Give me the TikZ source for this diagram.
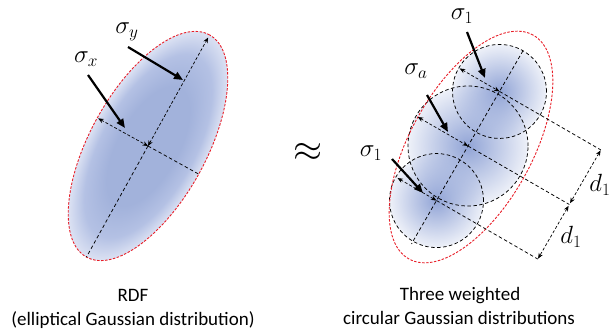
\documentclass[tikz,border=0pt]{standalone}
\usepackage{fontspec}
\setmainfont{Carlito}
\usetikzlibrary{arrows.meta,calc,fadings}
\definecolor{bcol}{RGB}{162,178,219}
\definecolor{mcol}{RGB}{180,193,228}
\definecolor{lcol}{RGB}{220,226,243}
\definecolor{ccol}{RGB}{145,164,214}
\definecolor{redd}{RGB}{232,30,40}
\pgfdeclareradialshading{ellshade}{\pgfpoint{0bp}{0bp}}{color(0bp)=(bcol); color(13bp)=(bcol); color(20bp)=(mcol); color(25bp)=(lcol); color(50bp)=(lcol)}
\tikzfading[name=radfade, inner color=transparent!0, outer color=transparent!85]
\begin{document}
\begin{tikzpicture}[x=1pt,y=1pt,
  lab/.style={font=\fontsize{25}{30}\selectfont, inner sep=0pt},
  txt/.style={font=\fontsize{19}{23}\selectfont, inner sep=0pt, anchor=base},
  big/.style={line width=2.2pt, -{Triangle[length=9pt,width=7.5pt]}},
  dim/.style={dash pattern=on 3pt off 2pt, line width=0.7pt, {Stealth[length=5.5pt,width=4.5pt]}-{Stealth[length=5.5pt,width=4.5pt]}},
  axis/.style={dash pattern=on 3.5pt off 2.5pt, line width=0.75pt},
  redel/.style={draw=redd, dash pattern=on 2.5pt off 1.5pt, line width=0.9pt}]
\useasboundingbox (0,0) rectangle (613,-331);

% ---------- left: elliptical Gaussian ----------
\coordinate (C1) at (148,-146);
\begin{scope}[transform canvas={shift={(148,-146)}, rotate=61}]
  \shade[shading=ellshade] (0,0) ellipse (127 and 58);
\end{scope}
\draw[redel, rotate around={61:(C1)}] (C1) ellipse (127 and 58);
\coordinate (Ltop) at ($(C1)+(61:124)$);
\coordinate (Lbot) at ($(C1)+(241:127)$);
\coordinate (Lleft) at ($(C1)+(151:57)$);
\coordinate (Lright) at ($(C1)+(331:58)$);
\draw[axis] (C1) -- (Lbot);
\draw[axis] (C1) -- (Lright);
\draw[dim] (Lleft) -- (C1);
\draw[dim] (C1) -- (Ltop);

\node[lab] (sx) at (86,-59) {$\sigma_x$};
\node[lab] (sy) at (127,-32) {$\sigma_y$};
\coordinate (sxs) at (88,-75);
\coordinate (sxe) at (125,-128);
\coordinate (sys) at (128,-47);
\coordinate (sye) at (183,-80);
\draw[big] (sxs) -- (sxe);
\draw[big] (sys) -- (sye);

% ---------- approx ----------
\node[font=\fontsize{24}{28}\selectfont, inner sep=0pt, scale=1.5] (approx) at (308,-152) {$\approx$};

% ---------- right: three circular Gaussians ----------
\coordinate (M) at (468,-146);
\coordinate (T) at ($(M)+(60:63)$);
\coordinate (B) at ($(M)+(240:63)$);
\fill[ccol, path fading=radfade] (B) circle (47);
\fill[ccol, path fading=radfade] (M) circle (60);
\fill[ccol, path fading=radfade] (T) circle (47);
\draw[axis] (B) circle (47);
\draw[axis] (M) circle (60);
\draw[axis] (T) circle (47);
\coordinate (C2) at (471,-147);
\draw[redel, rotate around={61:(C2)}] (C2) ellipse (128 and 61);

\coordinate (Atop) at ($(T)+(60:47)$);
\coordinate (Abot) at ($(B)+(240:50)$);
\draw[axis] (Atop) -- (Abot);

\coordinate (Tl) at ($(T)+(150:46)$);
\coordinate (Ml) at ($(M)+(150:58)$);
\coordinate (Bl) at ($(B)+(150:45)$);
\coordinate (Tr) at ($(T)+(330:117)$);
\coordinate (Mr) at ($(M)+(330:117)$);
\coordinate (Br) at ($(B)+(330:117)$);
\draw[dim] (Tl) -- (T);
\draw[dim] (Ml) -- (M);
\draw[dim] (Bl) -- (B);
\draw[axis] (T) -- (Tr);
\draw[axis] (M) -- (Mr);
\draw[axis] (B) -- (Br);
\draw[dim, shorten <=0.5pt, shorten >=1.5pt] (Tr) -- (Mr);
\draw[dim, shorten <=1.5pt, shorten >=0.5pt] (Mr) -- (Br);
\node[lab] (d1a) at (600,-185) {$d_1$};
\node[lab] (d1b) at (571,-237) {$d_1$};

\node[lab] (s1t) at (462,-16) {$\sigma_1$};
\node[lab] (sa) at (416,-71) {$\sigma_a$};
\node[lab] (s1b) at (371,-153) {$\sigma_1$};
\coordinate (s1ts) at (467,-32);
\coordinate (s1te) at (485,-78);
\coordinate (sas) at (427,-95);
\coordinate (sae) at (448,-132);
\coordinate (s1bs) at (392,-159);
\coordinate (s1be) at (423,-193);
\draw[big] (s1ts) -- (s1te);
\draw[big] (sas) -- (sae);
\draw[big] (s1bs) -- (s1be);

% ---------- captions ----------
\node[txt] (cap1) at (133,-301.7) {RDF};
\node[txt] (cap2) at (133,-325) {(elliptical Gaussian distribution)};
\node[txt] (cap3) at (460,-300.7) {Three weighted};
\node[txt] (cap4) at (459,-324) {circular Gaussian distributions};
\end{tikzpicture}
\end{document}
